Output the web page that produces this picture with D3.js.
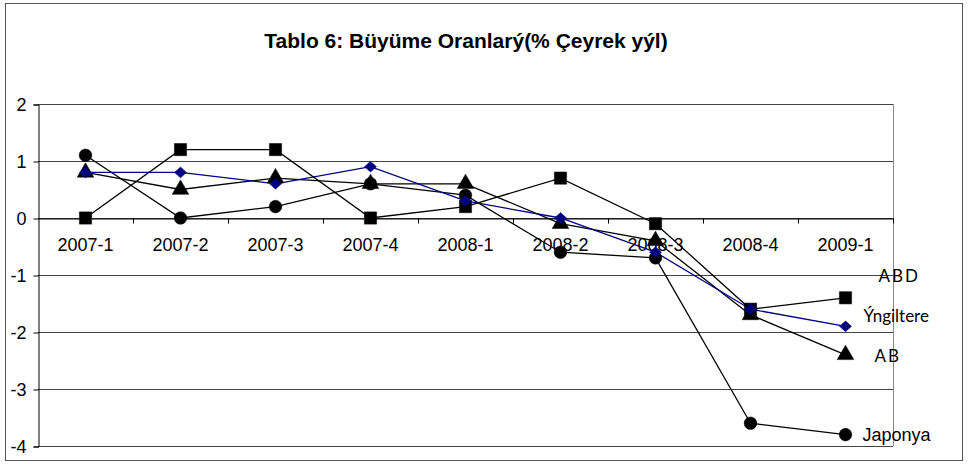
<!DOCTYPE html>
<html>
<head>
<meta charset="utf-8">
<script src="https://cdn.jsdelivr.net/npm/d3@7"></script>
<style>
  html, body { margin: 0; padding: 0; background: #fff; }
  svg { display: block; }
</style>
</head>
<body>
<svg id="chart" width="969" height="464"></svg>
<script>
const categories = ["2007-1","2007-2","2007-3","2007-4","2008-1","2008-2","2008-3","2008-4","2009-1"];
const abd       = [0.0, 1.2, 1.2, 0.0, 0.2, 0.7, -0.1, -1.6, -1.4];
const ingiltere = [0.8, 0.8, 0.6, 0.9, 0.3, 0.0, -0.6, -1.6, -1.9];
const ab        = [0.8, 0.5, 0.7, 0.6, 0.6, -0.1, -0.4, -1.7, -2.4];
const japonya   = [1.1, 0.0, 0.2, 0.6, 0.4, -0.6, -0.7, -3.6, -3.8];
const yTicks = [2, 1, 0, -1, -2, -3, -4];
const title = "Tablo 6: Büyüme Oranlarý(% Çeyrek yýl)";

const diamond = {draw(ctx, size) { const r = Math.sqrt(size / 2); ctx.moveTo(0, -r * 0.9); ctx.lineTo(r, 0); ctx.lineTo(0, r * 0.9); ctx.lineTo(-r, 0); ctx.closePath(); }};

const series = [
  {name: "ABD", values: abd, symbol: d3.symbolSquare, size: 150, color: "#000", lineColor: "#000",
   font: "Lato, 'Open Sans', sans-serif", fsize: 17, spacing: 2, dx: 33, dy: -20},
  {name: "Ýngiltere", values: ingiltere, symbol: diamond, size: 72, color: "#000080", lineColor: "#000080",
   font: "Lato, 'Open Sans', sans-serif", fsize: 17, spacing: 0, dx: 18, dy: -9},
  {name: "AB", values: ab, symbol: d3.symbolTriangle, size: 120, color: "#000", lineColor: "#000",
   font: "Lato, 'Open Sans', sans-serif", fsize: 17, spacing: 2, dx: 29, dy: 3},
  {name: "Japonya", values: japonya, symbol: d3.symbolCircle, size: 125, color: "#000", lineColor: "#000",
   font: "Arial, 'Liberation Sans', sans-serif", fsize: 18, spacing: 0, dx: 17, dy: 2}
];

const svg = d3.select("#chart");
const mLeft = 38, mRight = 893, mTop = 104, mBottom = 446;
const baseFont = "Arial, 'Liberation Sans', sans-serif";

// outer frame
svg.append("rect").attr("x", 5.5).attr("y", 3.5).attr("width", 957).attr("height", 457)
  .attr("fill", "#fff").attr("stroke", "#555").attr("stroke-width", 1);

const x = d3.scaleBand().domain(categories).range([mLeft, mRight]).padding(0);
const y = d3.scaleLinear().domain([-4, 2]).range([mBottom, mTop]);
const cx = c => x(c) + x.bandwidth() / 2;

// title
svg.append("text").attr("x", 466).attr("y", 48).attr("text-anchor", "middle")
  .attr("font-family", baseFont).attr("font-weight", "bold")
  .attr("font-size", 21).attr("fill", "#000").text(title);

// gridlines
svg.append("g").selectAll("line").data(yTicks).join("line")
  .attr("x1", mLeft).attr("x2", mRight)
  .attr("y1", d => Math.round(y(d)) + 0.5).attr("y2", d => Math.round(y(d)) + 0.5)
  .attr("stroke", "#444").attr("stroke-width", 1);

// plot right border
svg.append("line").attr("x1", mRight + 0.5).attr("x2", mRight + 0.5)
  .attr("y1", y(2)).attr("y2", y(-4)).attr("stroke", "#888");

// y axis
const yAxis = d3.axisLeft(y).tickValues(yTicks).tickSize(5).tickPadding(7).tickFormat(d3.format("d"));
const gy = svg.append("g").attr("transform", `translate(${mLeft + 0.5},0.5)`).call(yAxis);
gy.select(".domain").attr("stroke", "#000");
gy.selectAll(".tick line").attr("stroke", "#000");
gy.selectAll(".tick text").attr("font-family", baseFont)
  .attr("font-size", 18).attr("fill", "#000").text(d => d < 0 ? "-" + Math.abs(d) : d);

// x axis at zero
const xAxis = d3.axisBottom(x).tickSize(0).tickPadding(20);
const gx = svg.append("g").attr("transform", `translate(0,${Math.round(y(0)) + 0.5})`).call(xAxis);
gx.select(".domain").attr("stroke", "#000");
gx.selectAll(".tick text").attr("font-family", baseFont)
  .attr("font-size", 18).attr("fill", "#000");
// boundary ticks
const bounds = categories.map(c => x(c) + x.bandwidth());
gx.append("g").selectAll("line").data(bounds).join("line")
  .attr("x1", d => Math.round(d) + 0.5).attr("x2", d => Math.round(d) + 0.5)
  .attr("y1", 0).attr("y2", 5).attr("stroke", "#000");

// lines & markers
const line = d3.line().x((d, i) => cx(categories[i])).y(d => y(d));
const drawOrder = [3, 2, 0, 1];
drawOrder.forEach(k => {
  const s = series[k];
  svg.append("path").datum(s.values).attr("d", line)
    .attr("fill", "none").attr("stroke", s.lineColor).attr("stroke-width", 1.3);
});
drawOrder.forEach(k => {
  const s = series[k];
  const sym = d3.symbol().type(s.symbol).size(s.size);
  svg.append("g").selectAll("path").data(s.values).join("path")
    .attr("transform", (d, i) => `translate(${cx(categories[i])},${y(d)})`)
    .attr("d", sym).attr("fill", s.color).attr("stroke", s.color).attr("stroke-width", 0.5);
});

// series labels at the end
series.forEach(s => {
  const last = s.values[s.values.length - 1];
  svg.append("text")
    .attr("x", cx(categories[categories.length - 1]) + s.dx)
    .attr("y", y(last) + s.dy)
    .attr("dominant-baseline", "middle")
    .attr("font-family", s.font).attr("font-size", s.fsize)
    .attr("letter-spacing", s.spacing).attr("fill", "#000").text(s.name);
});
</script>
</body>
</html>
